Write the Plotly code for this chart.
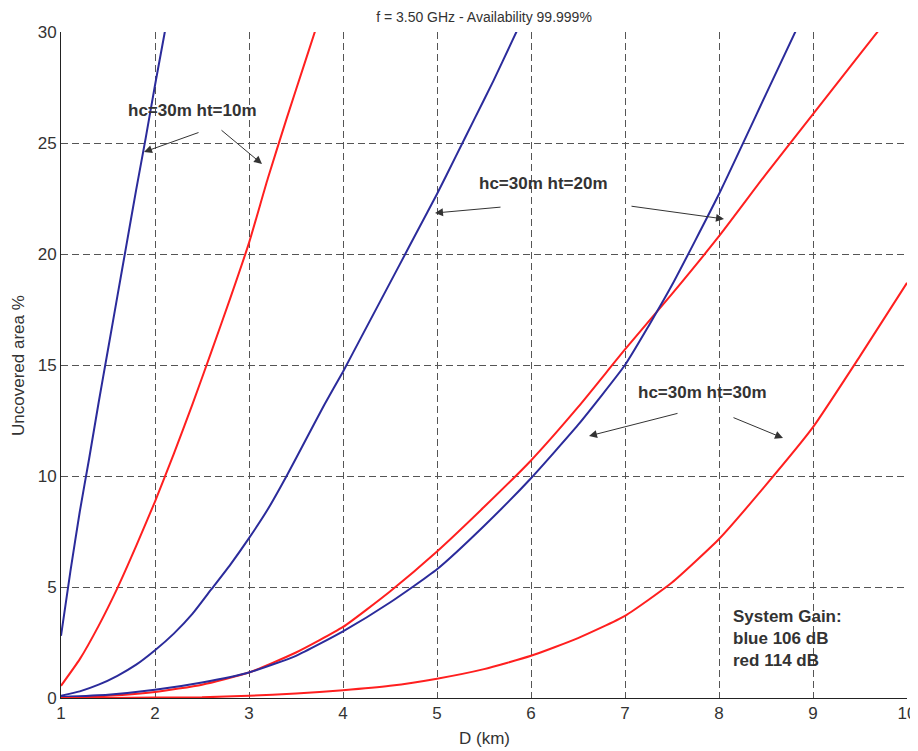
import plotly.graph_objects as go

# ---- data ----
x_b10 = [1.0, 1.1, 1.2, 1.3, 1.4, 1.5, 1.6, 1.7, 1.8, 1.9, 2.0, 2.1, 2.2]
y_b10 = [2.8, 5.7, 8.4, 10.8, 13.3, 15.7, 18.1, 20.5, 22.9, 25.2, 27.6, 29.9, 32.2]

x_r10 = [1.0, 1.2, 1.4, 1.6, 1.8, 2.0, 2.2, 2.4, 2.6, 2.8, 3.0, 3.2, 3.4, 3.6, 3.8]
y_r10 = [0.55, 1.75, 3.25, 4.95, 6.85, 8.85, 11.0, 13.25, 15.6, 18.0, 20.5, 23.4, 26.1, 28.7, 31.3]

x_b20 = [1.0, 1.2, 1.4, 1.6, 1.8, 2.0, 2.2, 2.4, 2.6, 2.8, 3.0, 3.2, 3.4, 3.6, 3.8,
         4.0, 4.2, 4.4, 4.6, 4.8, 5.0, 5.2, 5.4, 5.6, 5.8, 6.0]
y_b20 = [0.1, 0.3, 0.6, 1.0, 1.5, 2.15, 2.9, 3.8, 4.9, 6.0, 7.2, 8.5, 10.0, 11.6, 13.2,
         14.7, 16.3, 17.9, 19.5, 21.1, 22.7, 24.4, 26.1, 27.8, 29.6, 31.4]

x_b30 = [1.0, 1.5, 2.0, 2.5, 3.0, 3.5, 4.0, 4.5, 5.0, 5.5, 6.0, 6.5, 7.0, 7.25, 7.5, 8.0, 8.5, 9.0]
y_b30 = [0.05, 0.15, 0.37, 0.7, 1.15, 1.9, 3.0, 4.3, 5.8, 7.75, 9.9, 12.3, 15.0, 16.75, 18.6, 22.7, 27.2, 31.7]

x_r20 = [1.0, 1.5, 2.0, 2.5, 3.0, 3.5, 4.0, 4.5, 5.0, 5.5, 6.0, 6.5, 7.0, 7.5, 8.0, 8.5, 9.0, 9.5, 10.0]
y_r20 = [0.02, 0.1, 0.27, 0.6, 1.15, 2.05, 3.2, 4.8, 6.6, 8.6, 10.7, 13.1, 15.7, 18.2, 20.8, 23.6, 26.3, 29.0, 31.7]

x_r30 = [1.0, 1.5, 2.0, 2.5, 3.0, 3.5, 4.0, 4.5, 5.0, 5.5, 6.0, 6.5, 7.0, 7.5, 8.0, 8.5, 9.0, 9.5, 10.0]
y_r30 = [0.0, 0.0, 0.02, 0.03, 0.1, 0.2, 0.35, 0.55, 0.87, 1.3, 1.9, 2.7, 3.7, 5.2, 7.16, 9.6, 12.2, 15.4, 18.7]

x_ticks = [1, 2, 3, 4, 5, 6, 7, 8, 9, 10]
y_ticks = [0, 5, 10, 15, 20, 25, 30]

title_text = "f = 3.50 GHz - Availability 99.999%"
x_title = "D (km)"
y_title = "Uncovered area %"
gain_text = "System Gain:<br>blue 106 dB<br>red 114 dB"

BLUE = "#2b2b9b"
RED = "#ff1f1f"
TXT = "#333333"
GRID = "#555555"
FONT = "Liberation Sans, Arial"

# page offset (default body margin) and page-pixel geometry of the plot area
OFF = 8
W, H = 918 - OFF, 751 - OFF
L, R, T, B = 61 - OFF, 907 - OFF, 32 - OFF, 698 - OFF
PW, PH = R - L, B - T


def px(x):
    return (x - OFF - L) / PW


def py(y):
    return (B - (y - OFF)) / PH


fig = go.Figure()
series = [
    (x_b10, y_b10, BLUE), (x_r10, y_r10, RED),
    (x_b20, y_b20, BLUE), (x_r20, y_r20, RED),
    (x_b30, y_b30, BLUE), (x_r30, y_r30, RED),
]
for xs, ys, c in series:
    fig.add_trace(go.Scatter(x=xs, y=ys, mode="lines",
                             line=dict(color=c, width=2, shape="spline", smoothing=0.5),
                             showlegend=False, hoverinfo="skip"))

lab_font = dict(family=FONT, size=17, color=TXT)
for txt, x, y in [("<b>hc=30m ht=10m</b>", 192, 110),
                  ("<b>hc=30m ht=20m</b>", 543, 183),
                  ("<b>hc=30m ht=30m</b>", 702, 392)]:
    fig.add_annotation(text=txt, xref="paper", yref="paper", x=px(x), y=py(y),
                       showarrow=False, font=lab_font, xanchor="center", yanchor="middle")

fig.add_annotation(text="<b>" + gain_text + "</b>", xref="paper", yref="paper",
                   x=px(731), y=py(605), showarrow=False,
                   font=lab_font, xanchor="left", yanchor="top", align="left")

arrows = [((200, 132), (144, 152)), ((220, 129), (262, 164)),
          ((502, 207), (435, 213)), ((630, 206), (724, 219)),
          ((679, 413), (589, 436)), ((732, 417), (783, 438))]
for (tx, ty), (hx, hy) in arrows:
    fig.add_annotation(xref="paper", yref="paper", x=px(hx), y=py(hy),
                       axref="pixel", ayref="pixel", ax=tx - hx, ay=ty - hy,
                       showarrow=True, arrowhead=2, arrowsize=1.6, arrowwidth=1,
                       arrowcolor="#333333", text="")

# axis titles as annotations
fig.add_annotation(text=x_title, xref="paper", yref="paper", x=px(484), y=py(738),
                   showarrow=False, font=dict(family=FONT, size=17, color=TXT),
                   xanchor="center", yanchor="middle")
fig.add_annotation(text=y_title, xref="paper", yref="paper", x=px(18), y=py(366),
                   showarrow=False, textangle=-90, font=dict(family=FONT, size=17, color=TXT),
                   xanchor="center", yanchor="middle")

axis_common = dict(showgrid=True, gridcolor=GRID, griddash="7px,4px", gridwidth=1,
                   zeroline=False, showline=True, linecolor="#222222", linewidth=1,
                   ticks="", automargin=False,
                   tickfont=dict(family=FONT, size=17, color=TXT))

fig.update_layout(
    width=W, height=H,
    margin=dict(l=L, r=W - R, t=T, b=H - B, autoexpand=False),
    paper_bgcolor="white", plot_bgcolor="white",
    title=dict(text=title_text, x=(484 - OFF) / W, xanchor="center", y=1 - (17 - OFF) / H,
               yanchor="middle", font=dict(family=FONT, size=14, color=TXT)),
    xaxis=dict(range=[1, 10], tickvals=x_ticks, **axis_common),
    yaxis=dict(range=[0, 30], tickvals=y_ticks, **axis_common),
)

fig.write_html("out.html")
